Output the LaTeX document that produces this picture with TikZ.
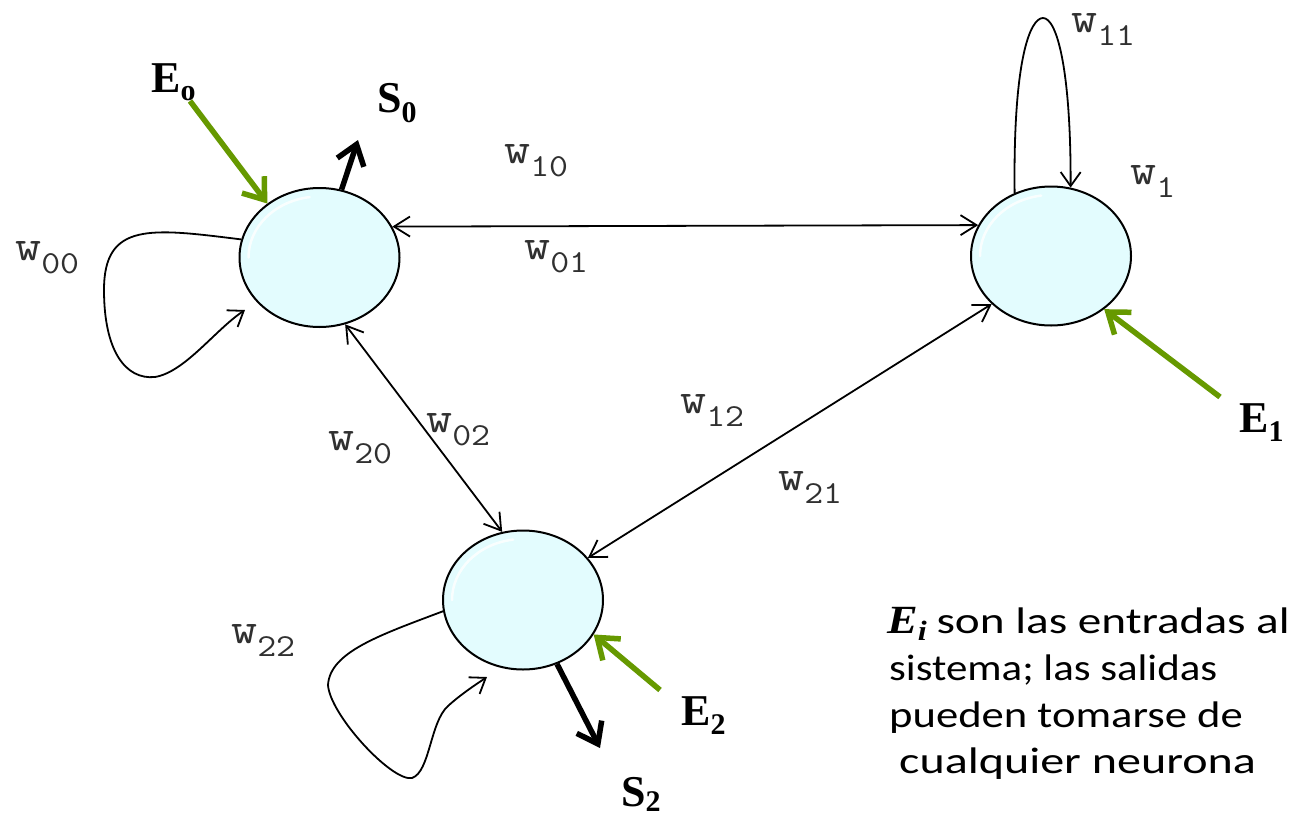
\documentclass[tikz,border=0pt]{standalone}
\usepackage{fontspec}
\setmainfont{Liberation Serif}
\newfontfamily\calibri{Carlito}[FakeStretch=1.16]
\usetikzlibrary{arrows.meta,shapes.geometric}
\definecolor{egreen}{RGB}{102,153,0}
\definecolor{nlight}{HTML}{E3FCFE}
\definecolor{nmid}{HTML}{BAD3D6}
\definecolor{ndark}{HTML}{3E4749}
\definecolor{wgray}{HTML}{303030}
\pgfdeclareradialshading{neuron}{\pgfpoint{-6bp}{6bp}}{color(0bp)=(nlight); color(37bp)=(nlight); color(44bp)=(nmid); color(50bp)=(ndark); color(60bp)=(ndark)}
\newcommand{\wl}[1]{\scalebox{1.15}[1]{{\ttfamily\fontsize{44}{44}\selectfont w}\raisebox{-13pt}{\ttfamily\fontsize{32}{32}\selectfont #1}}}
\newcommand{\iolbl}[3]{{\bfseries\fontsize{44}{44}\selectfont #1}\raisebox{-#3}{\bfseries\fontsize{30}{30}\selectfont #2}}
\tikzset{
  neuron/.style={ellipse, draw=black, line width=2pt, shading=neuron, minimum width=160pt, minimum height=139pt, inner sep=0pt},
  wlab/.style={anchor=base west, inner sep=0pt, text=wgray},
  iolab/.style={anchor=base west, inner sep=0pt},
  txt/.style={anchor=base west, inner sep=0pt, font=\calibri\fontsize{37}{37}\selectfont},
  conn/.style={line width=1.8pt, {Straight Barb[length=16pt,width=20pt]}-{Straight Barb[length=16pt,width=20pt]}},
  loop/.style={line width=1.8pt, -{Straight Barb[length=14pt,width=20pt]}},
  inarrow/.style={line width=5.5pt, egreen, -{Straight Barb[length=19pt,width=28pt]}},
  outarrow/.style={line width=5.5pt, black, -{Straight Barb[length=19pt,width=28pt]}},
  hl/.style={white, line width=2.5pt, opacity=0.8, line cap=round}
}
\begin{document}
\begin{tikzpicture}[x=1pt,y=-1pt]
\useasboundingbox[fill=white] (0,0) rectangle (1294,817);

% neurons
\node[neuron] (N0) at (319.5,257.5) {};
\node[neuron] (N1) at (1051,256) {};
\node[neuron] (N2) at (523,600) {};
\foreach \n in {N0,N1,N2}{
  \draw[hl] ([shift={(-71,0)}]\n.center) arc[start angle=180, end angle=262, x radius=71, y radius=61];
}

% connections between neurons
\draw[conn] (N0.23) -- (N1.157);
\draw[conn] (N0.-69) -- (N2.107);
\draw[conn] (N1.219) -- (N2.33);

% self loops
\coordinate (L0end) at (245,310);
\draw[loop] (N0.167) .. controls (150,228) and (104,222) .. (104,290)
  .. controls (104,350) and (125,380) .. (155,377)
  .. controls (185,372) and (215,330) .. (L0end);
\draw[loop] (N1.120) .. controls (1013,60) and (1030,18) .. (1043,18)
  .. controls (1057,18) and (1071,70) .. (N1.74);
\coordinate (L2end) at (487,677);
\draw[loop] (N2.188) .. controls (380,635) and (330,652) .. (328,685)
  .. controls (330,715) and (392,782) .. (412,778)
  .. controls (430,772) and (430,722) .. (448,706)
  .. controls (460,695) and (475,685) .. (L2end);

% inputs and outputs
\coordinate (E0s) at (190,101);
\coordinate (E1s) at (1220,397);
\coordinate (E2s) at (660,690);
\coordinate (S0e) at (358,140);
\coordinate (S2e) at (600,748);
\draw[inarrow] (E0s) -- (N0.134);
\draw[inarrow] (E1s) -- (N1.-45);
\draw[inarrow] (E2s) -- (N2.-26);
\draw[outarrow] (N0.72) -- (S0e);
\draw[outarrow] (N2.-62) -- (S2e);

% weight labels
\node[wlab] (w10) at (504,163) {\wl{10}};
\node[wlab] (w01) at (524,259) {\wl{01}};
\node[wlab] (w00) at (15,260) {\wl{00}};
\node[wlab] (w11) at (1071,32) {\wl{11}};
\node[wlab] (w1) at (1130,184) {\wl{1}};
\node[wlab] (w20) at (328,450) {\wl{20}};
\node[wlab] (w02) at (426,432) {\wl{02}};
\node[wlab] (w12) at (680,413) {\wl{12}};
\node[wlab] (w21) at (778,490) {\wl{21}};
\node[wlab] (w22) at (231,643) {\wl{22}};

% input / output labels
\node[iolab] (lE0) at (151,92) {\iolbl{E}{o}{8pt}};
\node[iolab] (lS0) at (377,112) {\iolbl{S}{0}{10pt}};
\node[iolab] (lE1) at (1239,432) {\iolbl{E}{1}{9pt}};
\node[iolab] (lE2) at (681,725) {\iolbl{E}{2}{9pt}};
\node[iolab] (lS2) at (621,806) {\iolbl{S}{2}{5pt}};

% explanation text
\node[txt] (t1) at (887,633) {\scalebox{1.15}[1]{\fontspec{Liberation Serif}\bfseries\itshape\fontsize{40}{40}\selectfont E\raisebox{-7pt}{\fontsize{28}{28}\selectfont i}} \scalebox{1.1}[1]{son las entradas al}};
\node[txt] (t2) at (889,680) {sistema; las salidas};
\node[txt] (t3) at (889,727) {\scalebox{1.04}[1]{pueden tomarse de}};
\node[txt] (t4) at (899,773) {\scalebox{1.12}[1]{cualquier neurona}};
\end{tikzpicture}
\end{document}
